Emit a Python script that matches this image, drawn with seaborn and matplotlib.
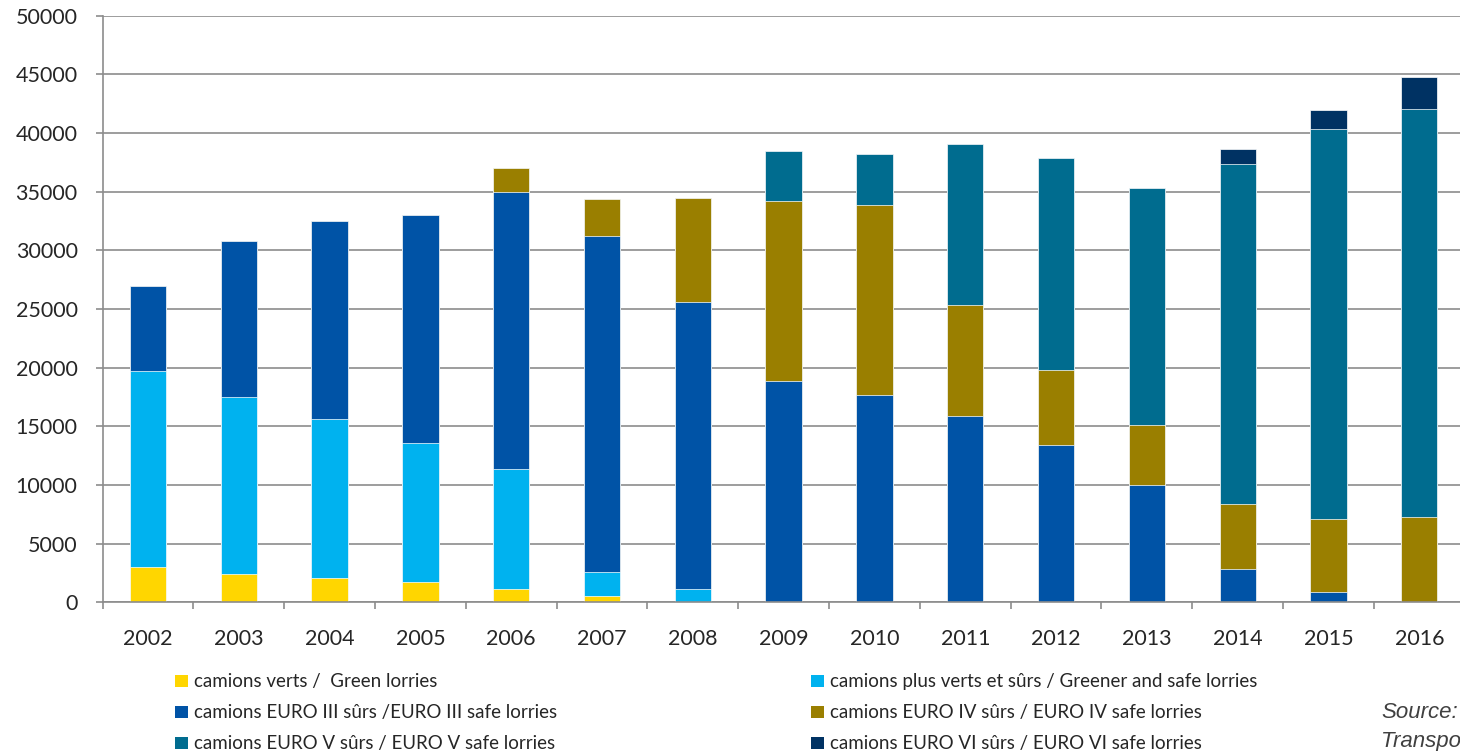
import numpy as np
import pandas as pd
import seaborn as sns
import matplotlib.pyplot as plt
from matplotlib.patches import Patch
from matplotlib.ticker import MultipleLocator, FixedLocator

years = ['2002', '2003', '2004', '2005', '2006', '2007', '2008', '2009',
         '2010', '2011', '2012', '2013', '2014', '2015', '2016']

# segment values per year
green = [3000, 2400, 2050, 1750, 1150, 500, 0, 0, 0, 0, 0, 0, 0, 0, 0]
greener_safe = [16700, 15100, 13550, 11850, 10250, 2050, 1150, 0, 0, 0, 0, 0, 0, 0, 0]
euro3 = [7300, 13300, 16900, 19400, 23600, 28700, 24450, 18900, 17650, 15900, 13450, 10000, 2850, 900, 0]
euro4 = [0, 0, 0, 0, 2050, 3150, 8900, 15300, 16250, 9450, 6350, 5150, 5500, 6200, 7250]
euro5 = [0, 0, 0, 0, 0, 0, 0, 4300, 4350, 13700, 18100, 20200, 29000, 33250, 34800]
euro6 = [0, 0, 0, 0, 0, 0, 0, 0, 0, 0, 0, 0, 1300, 1650, 2700]

labels = ['camions verts /  Green lorries',
          'camions plus verts et sûrs / Greener and safe lorries',
          'camions EURO III sûrs /EURO III safe lorries',
          'camions EURO IV sûrs / EURO IV safe lorries',
          'camions EURO V sûrs / EURO V safe lorries',
          'camions EURO VI sûrs / EURO VI safe lorries']
colors = ['#FFD600', '#00B2EF', '#0053A6', '#9A7F00', '#006C8F', '#003263']

sns.set_style('white')
plt.rcParams['font.family'] = ['Lato', 'DejaVu Sans']

series = [green, greener_safe, euro3, euro4, euro5, euro6]
df = pd.DataFrame({'Year': years})
cum = np.zeros(len(years))
for i, s in enumerate(series):
    cum = cum + np.array(s)
    df['cum%d' % i] = cum

fig = plt.figure(figsize=(14.6, 7.51), dpi=100)
ax = fig.add_axes([0.0703, 0.198, 0.9329, 0.781])

# draw cumulative totals from the top layer down
for i in range(len(series) - 1, -1, -1):
    sns.barplot(data=df, x='Year', y='cum%d' % i, color=colors[i], saturation=1,
                width=0.4, ax=ax, edgecolor='white', linewidth=0.5, zorder=3)

ax.set_ylim(0, 50000)
ax.set_xlim(-0.5, len(years) - 0.5)
ax.yaxis.set_major_locator(MultipleLocator(5000))
ax.grid(axis='y', color='#8c8c8c', linewidth=1.2, zorder=0)
ax.set_axisbelow(True)
ax.set_xlabel('')
ax.set_ylabel('')

# ticks between categories, labels at centres
ax.xaxis.set_major_locator(FixedLocator(np.arange(-0.5, len(years), 1.0)))
ax.xaxis.set_minor_locator(FixedLocator(np.arange(len(years))))
ax.set_xticklabels([], minor=False)
ax.set_xticklabels(years, minor=True)
ax.tick_params(axis='x', which='major', direction='out', length=5, width=1.2,
               color='#8c8c8c', bottom=True)
ax.tick_params(axis='x', which='minor', length=0, pad=19, labelsize=15.5)
ax.tick_params(axis='y', direction='out', length=5, width=1.2, color='#8c8c8c',
               left=True, pad=13, labelsize=15.5)

for side in ['top', 'right']:
    ax.spines[side].set_visible(False)
for side in ['left', 'bottom']:
    ax.spines[side].set_color('#8c8c8c')
    ax.spines[side].set_linewidth(1.2)
    ax.spines[side].set_zorder(4)

handles = [Patch(facecolor=c, edgecolor='none') for c in colors]
leg_kw = dict(frameon=False, fontsize=13.5, handlelength=0.65, handleheight=0.65,
              handletextpad=0.35, labelspacing=0.75, borderpad=0, loc='upper left')
leg1 = fig.legend([handles[0], handles[2], handles[4]], [labels[0], labels[2], labels[4]],
                  bbox_to_anchor=(166 / 1460, 1 - 664 / 751), **leg_kw)
leg2 = fig.legend([handles[1], handles[3], handles[5]], [labels[1], labels[3], labels[5]],
                  bbox_to_anchor=(802 / 1460, 1 - 664 / 751), **leg_kw)

fig.text(1381 / 1460, 1 - 713 / 751, 'Source:', fontsize=16, style='italic',
         family='Liberation Sans', color='#404040', va='center', ha='left')
fig.text(1381 / 1460, 1 - 742 / 751, 'Transports', fontsize=16, style='italic',
         family='Liberation Sans', color='#404040', va='center', ha='left')

plt.savefig('out.png', dpi=100)
